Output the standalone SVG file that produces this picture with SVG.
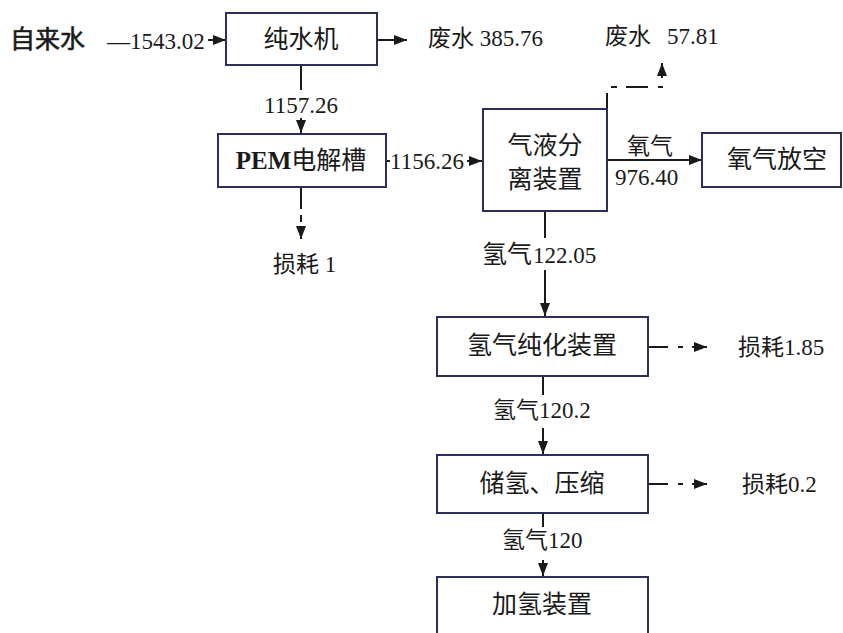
<svg xmlns="http://www.w3.org/2000/svg" width="843" height="633" viewBox="0 0 843 633">
<defs>
<style>
.box{fill:#fff;stroke:#2b2f5c;stroke-width:2}
.bt{font-family:"Liberation Serif","Noto Sans CJK SC",serif;font-size:25px;fill:#1a1a1a;text-anchor:middle}
.lb{font-family:"Liberation Serif","Noto Sans CJK SC",serif;font-size:23px;fill:#1a1a1a}
.ln{stroke:#1a1a1a;stroke-width:2;fill:none}
</style>
<marker id="arr" markerUnits="userSpaceOnUse" markerWidth="13" markerHeight="12" refX="13" refY="6" orient="auto">
<path d="M0,1 L13,6 L0,11 z" fill="#1a1a1a"/>
</marker>
</defs>
<rect width="843" height="633" fill="#fff"/>

<g id="connectors">
<text class="lb" x="107" y="49">—1543.02</text>
<line class="ln" x1="208" y1="40" x2="226" y2="40" marker-end="url(#arr)"/>
<line class="ln" x1="377" y1="40" x2="407" y2="40" marker-end="url(#arr)"/>
<text class="lb" x="428" y="46">废水 385.76</text>
<line class="ln" x1="301" y1="65" x2="301" y2="90"/>
<text class="lb" x="301" y="113" text-anchor="middle">1157.26</text>
<line class="ln" x1="301" y1="118" x2="301" y2="133" marker-end="url(#arr)"/>
<line class="ln" x1="301" y1="187" x2="301" y2="209"/>
<line class="ln" x1="301" y1="215" x2="301" y2="222"/>
<line class="ln" x1="301" y1="226" x2="301" y2="239" marker-end="url(#arr)"/>
<text class="lb" x="273" y="272">损耗 1</text>
<line class="ln" x1="386" y1="161" x2="390" y2="161"/>
<text class="lb" x="390" y="169">1156.26</text>
<line class="ln" x1="467" y1="161" x2="482" y2="161" marker-end="url(#arr)"/>
<line class="ln" x1="607" y1="109" x2="607" y2="93"/>
<line class="ln" x1="611" y1="87" x2="617" y2="87"/>
<line class="ln" x1="626" y1="87" x2="648" y2="87"/>
<line class="ln" x1="658" y1="87" x2="663" y2="87"/>
<line class="ln" x1="662" y1="78" x2="662" y2="63" marker-end="url(#arr)"/>
<text class="lb" x="605" y="44">废水<tspan x="667">57.81</tspan></text>
<line class="ln" x1="607" y1="160" x2="702" y2="160" marker-end="url(#arr)"/>
<text class="lb" x="627" y="154">氧气</text>
<text class="lb" x="615" y="185">976.40</text>
<line class="ln" x1="545" y1="211" x2="545" y2="238"/>
<text class="lb" x="482" y="263"><tspan font-size="25">氢气</tspan><tspan x="533">122.05</tspan></text>
<line class="ln" x1="545" y1="270" x2="545" y2="316" marker-end="url(#arr)"/>
<line class="ln" x1="648" y1="347" x2="668" y2="347"/>
<line class="ln" x1="678" y1="347" x2="683" y2="347"/>
<line class="ln" x1="692" y1="347" x2="707" y2="347" marker-end="url(#arr)"/>
<text class="lb" x="738" y="355">损耗1.85</text>
<line class="ln" x1="543" y1="376" x2="543" y2="395"/>
<text class="lb" x="493" y="418">氢气120.2</text>
<line class="ln" x1="543" y1="428" x2="543" y2="454" marker-end="url(#arr)"/>
<line class="ln" x1="648" y1="484" x2="668" y2="484"/>
<line class="ln" x1="678" y1="484" x2="683" y2="484"/>
<line class="ln" x1="692" y1="484" x2="707" y2="484" marker-end="url(#arr)"/>
<text class="lb" x="742" y="492">损耗0.2</text>
<line class="ln" x1="543" y1="513" x2="543" y2="527"/>
<text class="lb" x="502" y="548">氢气120</text>
<line class="ln" x1="543" y1="560" x2="543" y2="576" marker-end="url(#arr)"/>
</g>

<g id="source">
<text x="10" y="48" font-family="'Noto Sans CJK SC',sans-serif" font-size="25" fill="#1a1a1a" stroke="#1a1a1a" stroke-width="0.6">自来水</text>
</g>
<g id="chunshuiji">
<rect class="box" x="226" y="13" width="151" height="52"/>
<text class="bt" x="301" y="48">纯水机</text>
</g>
<g id="pem">
<rect class="box" x="218" y="134" width="168" height="53"/>
<text class="bt" x="301" y="169"><tspan font-weight="bold">PEM</tspan>电解槽</text>
</g>
<g id="qiye">
<rect class="box" x="483" y="109" width="124" height="102"/>
<text class="bt" x="545" y="154">气液分</text>
<text class="bt" x="545" y="188">离装置</text>
</g>
<g id="yangqi">
<rect class="box" x="702" y="133" width="139" height="54"/>
<text class="bt" x="777" y="168">氧气放空</text>
</g>
<g id="chunhua">
<rect class="box" x="437" y="317" width="211" height="59"/>
<text class="bt" x="542" y="354">氢气纯化装置</text>
</g>
<g id="chuqing">
<rect class="box" x="437" y="455" width="211" height="58"/>
<text class="bt" x="542" y="492">储氢、压缩</text>
</g>
<g id="jiaqing">
<rect class="box" x="437" y="577" width="211" height="70"/>
<text class="bt" x="542" y="613">加氢装置</text>
</g>
</svg>
